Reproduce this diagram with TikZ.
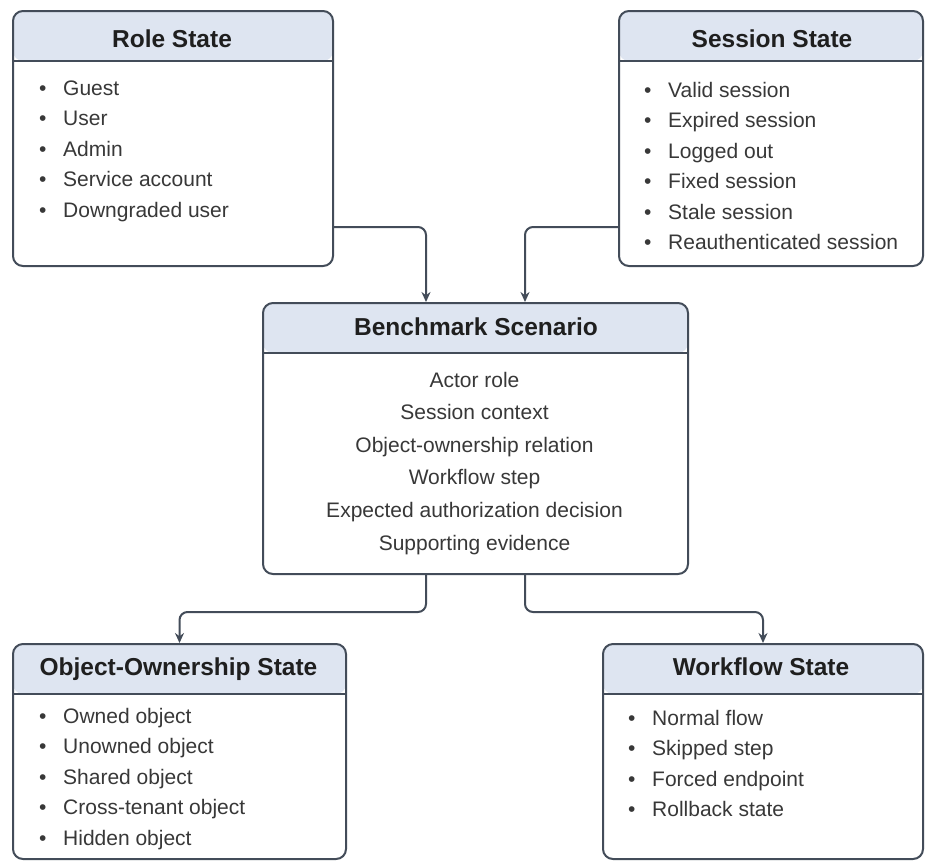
\documentclass[tikz,border=0pt]{standalone}
\usepackage{fontspec}
\setmainfont{Liberation Sans}
\usepackage{xcolor}
\usepackage{tikz}
\usetikzlibrary{positioning,arrows.meta}

\definecolor{linegray}{HTML}{434C59}
\definecolor{headblue}{HTML}{DEE5F1}
\newcommand{\itm}{\makebox[24pt][l]{\textbullet}}

\begin{document}
\begin{tikzpicture}[x=1pt, y=-1pt, >={Stealth[length=10pt,width=9pt]},
  box/.style={draw=linegray, line width=2pt, rounded corners=10pt, fill=white,
    anchor=north west, inner sep=0pt,
    path picture={\fill[headblue] (path picture bounding box.north west)
        rectangle ([yshift=-50pt]path picture bounding box.north east);
      \draw[linegray, line width=1.5pt] ([yshift=-50pt]path picture bounding box.north west)
        -- ([yshift=-50pt]path picture bounding box.north east);}},
  title/.style={font=\fontsize{24.5}{28}\selectfont\bfseries, text=black!88, anchor=base},
  list/.style={font=\fontsize{21}{30.5}\selectfont, text=black!78, align=left,
    anchor=base west, inner sep=0pt},
  conn/.style={->, draw=linegray, line width=2pt, rounded corners=8pt}]
  \useasboundingbox[fill=white] (0,0) rectangle (925,860);
  % boxes
  \node[box, minimum width=320pt, minimum height=255pt] (role)  at (12,10)   {};
  \node[box, minimum width=304pt, minimum height=255pt] (sess)  at (618,10)  {};
  \node[box, minimum width=425pt, minimum height=271pt] (bench) at (262,302) {};
  \node[box, minimum width=333pt, minimum height=215pt] (obj)   at (12,643)  {};
  \node[box, minimum width=320pt, minimum height=215pt] (flow)  at (602,643) {};
  % titles
  \node[title] (roleT)  at (172,47)    {Role State};
  \node[title] (sessT)  at (772,47)    {Session State};
  \node[title] (benchT) at (476,335)   {Benchmark Scenario};
  \node[title] (objT)   at (178.5,675) {Object-Ownership State};
  \node[title] (flowT)  at (761,675)   {Workflow State};
  % lists (anchored on the last line)
  \node[list] (roleL) at (39,217)
    {\itm Guest\\ \itm User\\ \itm Admin\\ \itm Service account\\ \itm Downgraded user};
  \node[list] (sessL) at (644,249.5)
    {\itm Valid session\\ \itm Expired session\\ \itm Logged out\\ \itm Fixed session\\
     \itm Stale session\\ \itm Reauthenticated session};
  \node[list, font=\fontsize{21}{32.6}\selectfont, align=center, anchor=base] (benchL) at (474.5,550)
    {Actor role\\ Session context\\ Object-ownership relation\\ Workflow step\\
     Expected authorization decision\\ Supporting evidence};
  \node[list] (objL) at (39,845)
    {\itm Owned object\\ \itm Unowned object\\ \itm Shared object\\ \itm Cross-tenant object\\
     \itm Hidden object};
  \node[list] (flowL) at (628,816.5)
    {\itm Normal flow\\ \itm Skipped step\\ \itm Forced endpoint\\ \itm Rollback state};
  % connectors
  \draw[conn] ([yshift=40pt]role.south east) -| ([xshift=-49.5pt]bench.north);
  \draw[conn] ([yshift=40pt]sess.south west) -| ([xshift=49.5pt]bench.north);
  \draw[conn] ([xshift=-49.5pt]bench.south) -- ++(0pt,-37pt) -| (obj.north);
  \draw[conn] ([xshift=49.5pt]bench.south) -- ++(0pt,-37pt) -| (flow.north);
\end{tikzpicture}
\end{document}
